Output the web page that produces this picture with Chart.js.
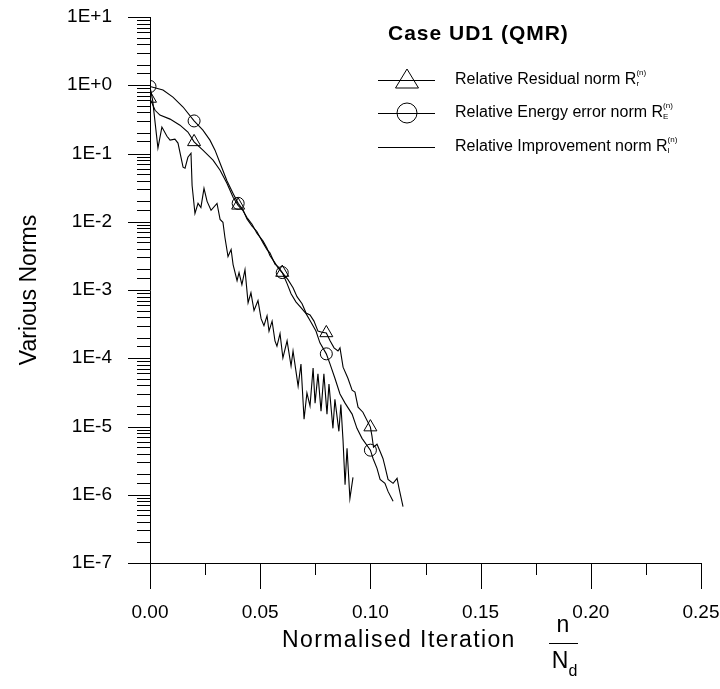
<!DOCTYPE html>
<html>
<head>
<meta charset="utf-8">
<script src="https://cdn.jsdelivr.net/npm/chart.js@4.4.0/dist/chart.umd.min.js"></script>
<style>
  html, body { margin: 0; padding: 0; background: #fff; }
  #wrap { width: 720px; height: 689px; }
</style>
</head>
<body>
<div id="wrap"><canvas id="chart" width="720" height="689"></canvas></div>
<script>
// normalised iteration n/Nd and the three norms
const residualX = [0, 0.0023, 0.0045, 0.0091, 0.0136, 0.0172, 0.020, 0.0240, 0.0286, 0.0318, 0.0349, 0.0377, 0.040,
  0.0422, 0.0440, 0.0463, 0.0485, 0.0513, 0.0531, 0.0544, 0.0567, 0.0581, 0.060,
  0.0626, 0.0649, 0.0667, 0.0690, 0.0708, 0.0726, 0.0744, 0.0762, 0.0780, 0.080,
  0.0817, 0.0835, 0.0853, 0.0862, 0.0876, 0.0898, 0.0917, 0.0930, 0.0944, 0.0966, 0.100,
  0.1007, 0.1014, 0.1030, 0.1044, 0.1057, 0.1066, 0.1080, 0.1103, 0.1121, 0.1130, 0.1148];
const residualY = [0.64, 0.43, 0.365, 0.319, 0.26, 0.206, 0.148, 0.112, 0.080, 0.057, 0.0366, 0.0228, 0.0174,
  0.0145, 0.0115, 0.0092, 0.0068, 0.0052, 0.0041, 0.0032, 0.0025, 0.0021, 0.0018,
  0.00142, 0.00108, 0.00080, 0.00063, 0.00046, 0.00043, 0.00035, 0.00025, 0.00024, 0.000235,
  0.00018, 0.000142, 0.000128, 0.000142, 7.4e-5, 5.1e-5, 3.4e-5, 3.2e-5, 1.92e-5, 1.62e-5, 9.8e-6,
  7.3e-6, 4.97e-6, 5.5e-6, 4.3e-6, 3.4e-6, 2.6e-6, 1.68e-6, 1.47e-6, 1.74e-6, 1.24e-6, 6.7e-7];

const energyX = [0, 0.0059, 0.0104, 0.015, 0.020, 0.024, 0.0272, 0.0295, 0.0318, 0.0349, 0.0377, 0.040,
  0.0422, 0.0440, 0.0463, 0.0485, 0.0513, 0.0531, 0.0544, 0.0567, 0.0581, 0.060,
  0.0622, 0.0640, 0.0662, 0.0685, 0.0708, 0.0730, 0.0753, 0.0771, 0.080,
  0.0817, 0.0839, 0.0862, 0.0885, 0.0917, 0.0939, 0.0962, 0.100,
  0.1012, 0.1030, 0.1044, 0.1066, 0.1080, 0.1103];
const energyY = [0.96, 0.85, 0.67, 0.48, 0.30, 0.22, 0.157, 0.112, 0.072, 0.040, 0.026, 0.0186,
  0.0150, 0.0110, 0.0086, 0.0072, 0.0049, 0.0039, 0.0035, 0.0024, 0.0022, 0.0018,
  0.00124, 0.00088, 0.00067, 0.00055, 0.00045, 0.00034, 0.00025, 0.000168, 0.000116,
  8.2e-5, 5.1e-5, 3.0e-5, 2.2e-5, 1.52e-5, 9.4e-6, 6.7e-6, 4.5e-6,
  3.4e-6, 2.44e-6, 1.68e-6, 1.47e-6, 1.12e-6, 8.0e-7];

const improvementX = [0, 0.0012, 0.0036, 0.0054, 0.0077, 0.0091, 0.0113, 0.0127, 0.0150, 0.0159,
  0.0172, 0.0186, 0.0191, 0.0204, 0.0218, 0.0231, 0.0245, 0.0259, 0.0277, 0.0304,
  0.0318, 0.0331, 0.0340, 0.0354, 0.0368, 0.0377, 0.0395, 0.0404, 0.0417, 0.0431,
  0.0445, 0.0458, 0.0472, 0.0490, 0.0504, 0.0517, 0.0531, 0.0540, 0.0554, 0.0567,
  0.0576, 0.0590, 0.0603, 0.0622, 0.0640, 0.0649, 0.0672, 0.0685, 0.0699, 0.0712,
  0.0726, 0.0740, 0.0749, 0.0762, 0.0776, 0.0789, 0.0803, 0.0812, 0.0830, 0.0839,
  0.0857, 0.0866, 0.0876, 0.0885, 0.0894, 0.0907, 0.0921];
const improvementY = [0.95, 0.6, 0.12, 0.244, 0.179, 0.157, 0.162, 0.142, 0.063, 0.061,
  0.088, 0.101, 0.034, 0.0132, 0.0186, 0.0162, 0.0309, 0.0199, 0.0147, 0.0186,
  0.0108, 0.0098, 0.00588, 0.00309, 0.00392, 0.00236, 0.00137, 0.00180, 0.00120, 0.00199,
  0.00065, 0.00091, 0.00050, 0.00070, 0.00038, 0.00030, 0.00042, 0.00025, 0.00035, 0.00018,
  0.00015, 0.00023, 0.000101, 0.00018, 7.7e-5, 1.28e-4, 3.9e-5, 8.2e-5, 1.28e-5, 3.1e-5,
  2.0e-5, 7.2e-5, 2.2e-5, 5.9e-5, 1.68e-5, 5.9e-5, 1.52e-5, 4.2e-5, 9.4e-6, 2.5e-5,
  8.5e-6, 2.1e-5, 6.1e-6, 1.40e-6, 4.8e-6, 8.8e-7, 1.8e-6];

// markers sit every 0.02 on the residual and energy curves
const markerStep = 0.02;
const xTicks = [0, 0.05, 0.10, 0.15, 0.20, 0.25];

const FONT = '"Liberation Sans", Arial, sans-serif';

function toPoints(xs, ys) {
  return xs.map((x, i) => ({ x: x, y: ys[i] }));
}

function onMarker(x) {
  const k = x / markerStep;
  return Math.abs(k - Math.round(k)) < 1e-6;
}

function isDecade(v) {
  const e = Math.log10(v);
  return Math.abs(e - Math.round(e)) < 1e-6;
}

// ticks, titles and legend
const decor = {
  id: 'decor',
  afterDraw(chart) {
    const ctx = chart.ctx;
    const xs = chart.scales.x, ys = chart.scales.y;
    const area = chart.chartArea;
    ctx.save();
    ctx.strokeStyle = '#000';
    ctx.fillStyle = '#000';
    ctx.lineWidth = 1;

    // y tick marks, outside
    ys.ticks.forEach(t => {
      const py = Math.round(ys.getPixelForValue(t.value)) + 0.5;
      const len = isDecade(t.value) ? 22 : 13;
      ctx.beginPath();
      ctx.moveTo(area.left - len, py);
      ctx.lineTo(area.left, py);
      ctx.stroke();
    });
    // x tick marks, outside, minor halfway
    for (let i = 0; i < xTicks.length; i++) {
      const px = Math.round(xs.getPixelForValue(xTicks[i])) + 0.5;
      ctx.beginPath();
      ctx.moveTo(px, area.bottom);
      ctx.lineTo(px, area.bottom + 26);
      ctx.stroke();
      if (i < xTicks.length - 1) {
        const pm = Math.round(xs.getPixelForValue((xTicks[i] + xTicks[i + 1]) / 2)) + 0.5;
        ctx.beginPath();
        ctx.moveTo(pm, area.bottom);
        ctx.lineTo(pm, area.bottom + 12);
        ctx.stroke();
      }
    }

    // axis titles
    ctx.font = '23px ' + FONT;
    ctx.textBaseline = 'middle';
    ctx.textAlign = 'left';
    ctx.letterSpacing = '1.4px';
    ctx.fillText('Normalised Iteration', 282, 641);
    ctx.letterSpacing = '0px';
    ctx.textAlign = 'center';
    ctx.fillText('n', 563, 626);
    ctx.fillText('N', 560, 662);
    ctx.font = '16px ' + FONT;
    ctx.fillText('d', 573, 672);
    ctx.beginPath();
    ctx.moveTo(549, 643.5);
    ctx.lineTo(578, 643.5);
    ctx.stroke();

    ctx.save();
    ctx.translate(30, 290);
    ctx.rotate(-Math.PI / 2);
    ctx.font = '23px ' + FONT;
    ctx.textAlign = 'center';
    ctx.fillText('Various Norms', 0, 0);
    ctx.restore();

    // title
    ctx.font = 'bold 21px ' + FONT;
    ctx.textAlign = 'left';
    ctx.letterSpacing = '1px';
    ctx.fillText('Case UD1 (QMR)', 388, 34);
    ctx.letterSpacing = '0px';

    // legend
    const rows = [
      { text: 'Relative Residual norm R', sub: 'r', marker: 'triangle', y: 80 },
      { text: 'Relative Energy error norm R', sub: 'E', marker: 'circle', y: 113 },
      { text: 'Relative Improvement norm R', sub: 'I', marker: null, y: 147 }
    ];
    rows.forEach(r => {
      ctx.beginPath();
      ctx.moveTo(378, r.y + 0.5);
      ctx.lineTo(435, r.y + 0.5);
      ctx.stroke();
      if (r.marker === 'triangle') {
        ctx.beginPath();
        ctx.moveTo(407, r.y - 11);
        ctx.lineTo(418.5, r.y + 8);
        ctx.lineTo(395.5, r.y + 8);
        ctx.closePath();
        ctx.stroke();
      } else if (r.marker === 'circle') {
        ctx.beginPath();
        ctx.arc(407, r.y, 10, 0, Math.PI * 2);
        ctx.stroke();
      }
      ctx.font = '16px ' + FONT;
      ctx.textAlign = 'left';
      ctx.textBaseline = 'middle';
      ctx.fillText(r.text, 455, r.y);
      const w = ctx.measureText(r.text).width;
      ctx.font = '8px ' + FONT;
      ctx.fillText(r.sub, 455 + w, r.y + 4);
      ctx.fillText('(n)', 455 + w, r.y - 7);
    });
    ctx.restore();
  }
};

new Chart(document.getElementById('chart'), {
  type: 'line',
  data: {
    datasets: [
      {
        label: 'Relative Residual norm',
        data: toPoints(residualX, residualY),
        borderColor: '#000',
        borderWidth: 1.1,
        pointStyle: 'triangle',
        pointRadius: c => onMarker(c.raw.x) ? 7.5 : 0,
        pointBorderColor: '#000',
        pointBackgroundColor: 'rgba(0,0,0,0)',
        pointBorderWidth: 1,
        tension: 0
      },
      {
        label: 'Relative Energy error norm',
        data: toPoints(energyX, energyY),
        borderColor: '#000',
        borderWidth: 1.1,
        pointStyle: 'circle',
        pointRadius: c => onMarker(c.raw.x) ? 6 : 0,
        pointBorderColor: '#000',
        pointBackgroundColor: 'rgba(0,0,0,0)',
        pointBorderWidth: 1,
        tension: 0
      },
      {
        label: 'Relative Improvement norm',
        data: toPoints(improvementX, improvementY),
        borderColor: '#000',
        borderWidth: 1.1,
        pointRadius: 0,
        tension: 0
      }
    ]
  },
  options: {
    responsive: false,
    animation: false,
    layout: { padding: { top: 17, right: 19, left: 0, bottom: 0 } },
    plugins: {
      legend: { display: false },
      tooltip: { enabled: false }
    },
    scales: {
      x: {
        type: 'linear',
        min: 0,
        max: 0.25,
        afterFit: s => { s.height = 126; s.paddingLeft = 0; s.paddingRight = 0; },
        afterBuildTicks: s => { s.ticks = xTicks.map(v => ({ value: v })); },
        grid: { display: false, drawTicks: false },
        border: { display: true, color: '#000', width: 1 },
        ticks: {
          padding: 38,
          color: '#000',
          maxRotation: 0,
          font: { family: FONT, size: 19 },
          callback: v => v.toFixed(2)
        }
      },
      y: {
        type: 'logarithmic',
        min: 1e-7,
        max: 10,
        afterFit: s => { s.width = 150; s.paddingTop = 0; s.paddingBottom = 0; },
        grid: { display: false, drawTicks: false },
        border: { display: true, color: '#000', width: 1 },
        ticks: {
          autoSkip: false,
          padding: 38,
          color: '#000',
          font: { family: FONT, size: 19 },
          callback: v => {
            if (!isDecade(v)) return '';
            const n = Math.round(Math.log10(v));
            return '1E' + (n >= 0 ? '+' : '-') + Math.abs(n);
          }
        }
      }
    }
  },
  plugins: [decor]
});
</script>
</body>
</html>
